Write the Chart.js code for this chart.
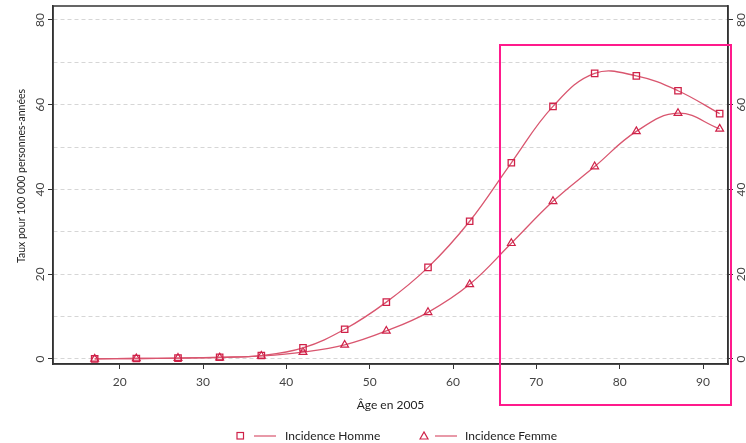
<!DOCTYPE html>
<html>
<head>
<meta charset="utf-8">
<script src="https://cdn.jsdelivr.net/npm/chart.js@4/dist/chart.umd.min.js"></script>
<style>
  html, body { margin: 0; padding: 0; background: #fff; }
  #wrap { width: 746px; height: 443px; }
</style>
</head>
<body>
<div id="wrap"><canvas id="incChart" width="746" height="443"></canvas></div>
<script>
// data
const ages = [17, 22, 27, 32, 37, 42, 47, 52, 57, 62, 67, 72, 77, 82, 87, 92];
const homme = [0, 0.1, 0.2, 0.4, 0.8, 2.6, 7, 13.4, 21.6, 32.5, 46.3, 59.6, 67.4, 66.8, 63.3, 57.9];
const femme = [0, 0.1, 0.2, 0.3, 0.7, 1.6, 3.3, 6.6, 11, 17.6, 27.3, 37.2, 45.4, 53.7, 58, 54.3];
const xTicks = [20, 30, 40, 50, 60, 70, 80, 90];
const yLabels = [0, 20, 40, 60, 80];
const yGrid = [0, 10, 20, 30, 40, 50, 60, 70, 80];
const seriesNames = ['Incidence Homme', 'Incidence Femme'];
const yTitle = 'Taux pour 100 000 personnes-années';

const lineCol = '#d9566f';
const markCol = '#cf2148';
const FONT = "Lato, 'Liberation Sans', sans-serif";

const toXY = (vals) => ages.map((a, i) => ({ x: a, y: vals[i] }));

// frame, rotated y labels, y title, legend and the pink box
const extras = {
  id: 'extras',
  afterDraw(chart) {
    const ctx = chart.ctx;
    const a = chart.chartArea;
    const y = chart.scales.y;
    ctx.save();
    ctx.strokeStyle = '#333';
    ctx.lineWidth = 1.5;
    ctx.strokeRect(a.left, a.top, a.right - a.left, a.bottom - a.top);

    ctx.fillStyle = '#444';
    ctx.font = '12px ' + FONT;
    ctx.textAlign = 'center';
    ctx.textBaseline = 'middle';
    yLabels.forEach(v => {
      const py = y.getPixelForValue(v);
      [40, 741].forEach(px => {
        ctx.save();
        ctx.translate(px, py);
        ctx.rotate(-Math.PI / 2);
        ctx.fillText(String(v), 0, 0);
        ctx.restore();
      });
    });

    ctx.save();
    ctx.fillStyle = '#222';
    ctx.font = '10.5px ' + FONT;
    ctx.translate(22, 176);
    ctx.rotate(-Math.PI / 2);
    ctx.fillText(yTitle, 0, 0);
    ctx.restore();

    // legend
    ctx.strokeStyle = markCol;
    ctx.lineWidth = 1.2;
    ctx.strokeRect(237, 432.5, 6.5, 6.5);
    ctx.beginPath(); ctx.moveTo(420, 439); ctx.lineTo(424, 432); ctx.lineTo(428, 439); ctx.closePath(); ctx.stroke();
    ctx.strokeStyle = lineCol;
    ctx.beginPath(); ctx.moveTo(254, 436); ctx.lineTo(276, 436); ctx.stroke();
    ctx.beginPath(); ctx.moveTo(435, 436); ctx.lineTo(457, 436); ctx.stroke();
    ctx.fillStyle = '#222';
    ctx.font = '12px ' + FONT;
    ctx.textAlign = 'left';
    ctx.fillText(seriesNames[0], 285, 436);
    ctx.fillText(seriesNames[1], 465, 436);

    // highlight box
    ctx.strokeStyle = '#ff1a8c';
    ctx.lineWidth = 2;
    ctx.strokeRect(500, 45, 231, 360);
    ctx.restore();
  }
};

new Chart(document.getElementById('incChart'), {
  type: 'line',
  data: {
    datasets: [
      {
        label: seriesNames[0],
        data: toXY(homme),
        borderColor: lineCol,
        borderWidth: 1.3,
        pointStyle: 'rect',
        pointRadius: 4.5,
        pointBorderColor: markCol,
        pointBackgroundColor: 'rgba(255,255,255,0)',
        pointBorderWidth: 1.3,
        tension: 0.4
      },
      {
        label: seriesNames[1],
        data: toXY(femme),
        borderColor: lineCol,
        borderWidth: 1.3,
        pointStyle: 'triangle',
        pointRadius: 4.5,
        pointBorderColor: markCol,
        pointBackgroundColor: 'rgba(255,255,255,0)',
        pointBorderWidth: 1.2,
        tension: 0.4
      }
    ]
  },
  options: {
    responsive: false,
    animation: false,
    layout: { padding: { top: 6, bottom: 30, left: 0, right: 0 } },
    plugins: { legend: { display: false }, tooltip: { enabled: false } },
    scales: {
      x: {
        type: 'linear',
        min: 12,
        max: 93,
        afterBuildTicks: (s) => { s.ticks = xTicks.map(v => ({ value: v })); },
        afterFit: (s) => { s.height = 49; },
        grid: { drawOnChartArea: false, tickLength: 5, tickColor: '#333' },
        border: { color: '#333', width: 1.5 },
        ticks: { color: '#444', font: { family: FONT, size: 12 }, padding: 6, maxRotation: 0 },
        title: { display: true, text: 'Âge en 2005', color: '#222', font: { family: FONT, size: 12 }, padding: { top: 0, bottom: 1 } }
      },
      y: {
        position: 'left',
        min: -1.2,
        max: 83.3,
        afterBuildTicks: (s) => { s.ticks = yGrid.map(v => ({ value: v })); },
        afterFit: (s) => { s.width = 53; },
        grid: {
          color: '#d6d6d6',
          lineWidth: 1,
          tickLength: 5,
          tickColor: (c) => (c.tick && c.tick.value % 20 === 0) ? '#333' : 'rgba(0,0,0,0)'
        },
        border: { color: '#333', width: 1.5, dash: [4, 3] },
        ticks: { display: false }
      },
      y2: {
        position: 'right',
        min: -1.2,
        max: 83.3,
        afterBuildTicks: (s) => { s.ticks = yLabels.map(v => ({ value: v })); },
        afterFit: (s) => { s.width = 18; },
        grid: { drawOnChartArea: false, tickLength: 5, tickColor: '#333' },
        border: { color: '#333', width: 1.5 },
        ticks: { display: false }
      }
    }
  },
  plugins: [extras]
});
</script>
</body>
</html>
